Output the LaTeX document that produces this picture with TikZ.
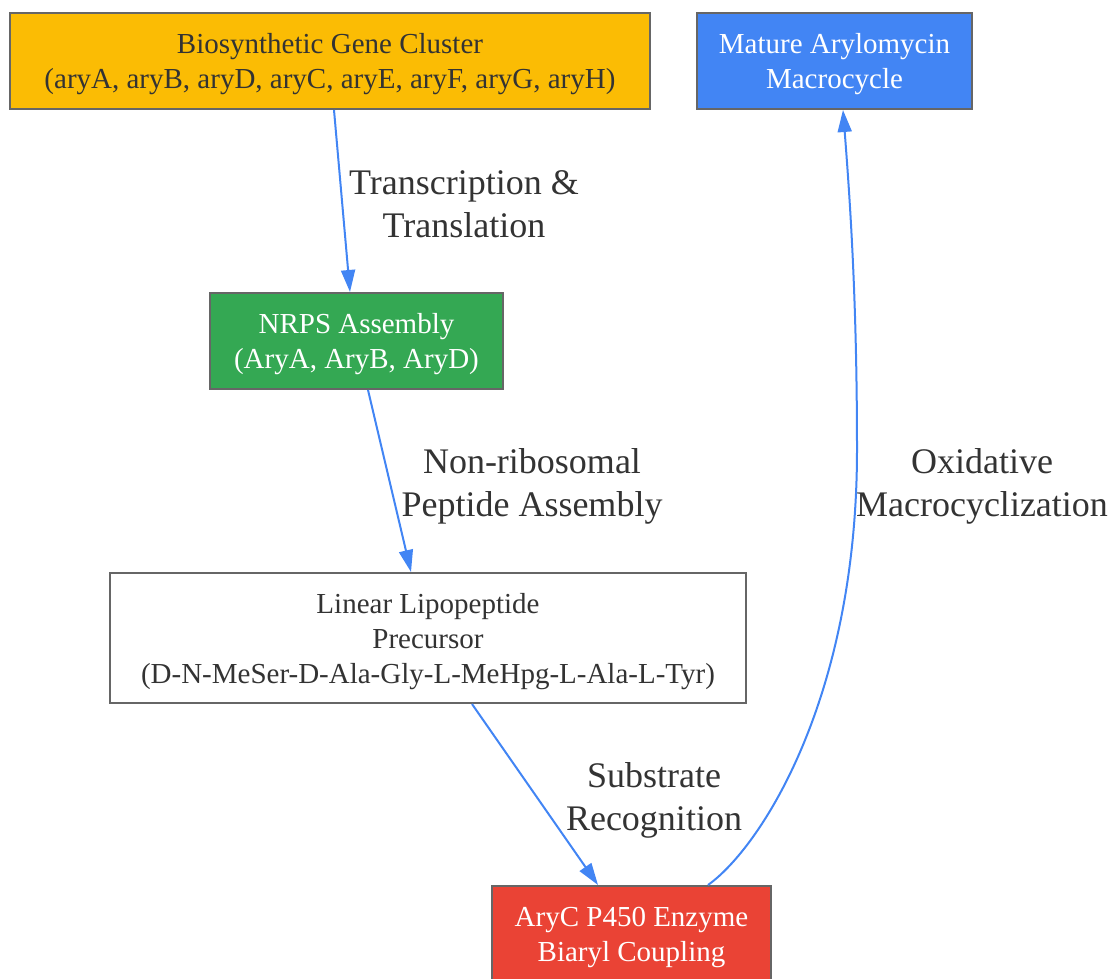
\documentclass[tikz,border=0pt]{standalone}
\usepackage{fontspec}
\setmainfont{Liberation Serif}
\usetikzlibrary{arrows.meta}
\definecolor{gyellow}{HTML}{FBBC04}
\definecolor{gblue}{HTML}{4285F4}
\definecolor{ggreen}{HTML}{34A853}
\definecolor{gred}{HTML}{EA4335}
\definecolor{bordergray}{HTML}{666666}
\definecolor{txtdark}{HTML}{333333}
\tikzset{
  box/.style={draw=bordergray, line width=2pt, rectangle, align=center, inner sep=4pt,
    text depth=-1pt, font=\fontsize{29}{35}\selectfont},
  darktext/.style={text=txtdark},
  lighttext/.style={text=white},
  edgelabel/.style={align=center, text=txtdark, font=\fontsize{36}{43}\selectfont, inner sep=0pt},
  conn/.style={draw=gblue, line width=2pt, -{Triangle[length=22pt,width=14pt]}},
}
\begin{document}
\begin{tikzpicture}[x=1pt,y=-1pt]
\useasboundingbox (0,0) rectangle (1114,979);
\node[box, darktext, fill=gyellow, minimum width=640pt, minimum height=96pt] (gene) at (330,61)
  {Biosynthetic Gene Cluster\\(aryA, aryB, aryD, aryC, aryE, aryF, aryG, aryH)};
\node[box, lighttext, fill=gblue, minimum width=275pt, minimum height=96pt] (mature) at (834.5,61)
  {Mature Arylomycin\\Macrocycle};
\node[box, lighttext, fill=ggreen, minimum width=293pt, minimum height=96pt] (nrps) at (356.5,341)
  {NRPS Assembly\\(AryA, AryB, AryD)};
\node[box, darktext, fill=white, minimum width=636pt, minimum height=130pt] (linear) at (428,638)
  {Linear Lipopeptide\\Precursor\\(D-N-MeSer-D-Ala-Gly-L-MeHpg-L-Ala-L-Tyr)};
\node[box, lighttext, fill=gred, minimum width=279pt, minimum height=96pt] (aryc) at (631.5,934)
  {AryC P450 Enzyme\\Biaryl Coupling};

\draw[conn] ([xshift=4pt]gene.south) -- ([xshift=-6.5pt]nrps.north);
\draw[conn] ([xshift=11.5pt]nrps.south) -- ([xshift=-17pt]linear.north);
\draw[conn] ([xshift=44pt]linear.south) -- ([xshift=-33.5pt]aryc.north);
\coordinate (mid) at (857,450);
\draw[conn] ([xshift=76.5pt]aryc.north) .. controls (760,848) and (857,700) .. (mid)
  .. controls (857,300) and (850,200) .. ([xshift=8.5pt]mature.south);

\node[edgelabel] (l1) at (464,204) {Transcription \&\\Translation};
\node[edgelabel] (l2) at (532,486) {Non-ribosomal\\Peptide Assembly};
\node[edgelabel] (l3) at (654,800) {Substrate\\Recognition};
\node[edgelabel] (l4) at (982,486) {Oxidative\\Macrocyclization};
\end{tikzpicture}
\end{document}
